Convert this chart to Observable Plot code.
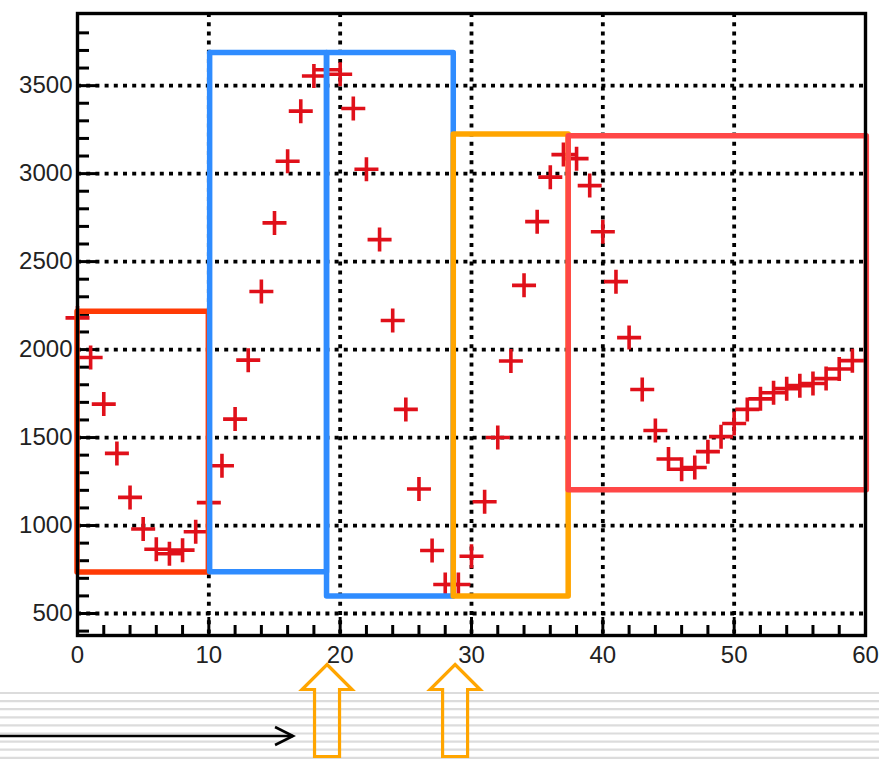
<!DOCTYPE html>
<html><head><meta charset="utf-8">
<script src="https://cdn.jsdelivr.net/npm/d3@7"></script>
<script src="https://cdn.jsdelivr.net/npm/@observablehq/plot@0.6"></script>
<style>html,body{margin:0;padding:0;background:#fff}#chart svg{display:block}</style>
</head><body><div id="chart"></div>
<script>
// ---- data ----
const yValues = [2180,1955,1690,1410,1160,980,865,840,860,965,
                 1130,1340,1605,1940,2330,2720,3070,3355,3555,3590,
                 3565,3370,3025,2625,2165,1660,1208,858,665,665,
                 825,1135,1500,1935,2365,2727,2980,3108,3085,2932,
                 2670,2386,2068,1773,1540,1378,1320,1330,1420,1505,
                 1580,1660,1720,1755,1778,1795,1807,1835,1890,1937];
const xTickLabels = [0,10,20,30,40,50,60];
const yTickLabels = [500,1000,1500,2000,2500,3000,3500];
const xMinorTicks = [2,4,6,8,12,14,16,18,22,24,26,28,32,34,36,38,42,44,46,48,52,54,56,58];
const yMinorTicks = [400,600,700,800,900,1100,1200,1300,1400,1600,1700,1800,1900,2100,2200,2300,2400,2600,2700,2800,2900,3100,3200,3300,3400,3600,3700,3800];
const boxX1 = [0, 10.1, 19.0, 28.65, 37.4];
const boxX2 = [10, 19.0, 28.65, 37.4, 60.1];
const boxY1 = [733, 735, 597, 597, 1200];
const boxY2 = [2215, 3686, 3686, 3222, 3212];
const boxColor = ["#ff3a05", "#2f8cff", "#2f8cff", "#ffa500", "#ff4747"];
const upArrowX = [19, 28.75];
const timeArrowEndX = 16.45;

// ---- derived tables ----
const points = yValues.map((y, i) => ({x: i, y}));
const boxes = boxX1.map((x1, i) => ({x1, x2: boxX2[i], y1: boxY1[i], y2: boxY2[i], c: boxColor[i]}));

const W = 879, H = 761, mL = 77, mR = 14, mT = 13, mB = 126;
const frameW = W - mL - mR, frameH = H - mT - mB;

const plusSymbol = {draw(ctx) { const r = 12; ctx.moveTo(-r, 0); ctx.lineTo(r, 0); ctx.moveTo(0, -r); ctx.lineTo(0, r); }};
const upArrow = {draw(ctx) {
  ctx.moveTo(0, -46); ctx.lineTo(25, -21); ctx.lineTo(12.5, -21); ctx.lineTo(12.5, 46);
  ctx.lineTo(-12.5, 46); ctx.lineTo(-12.5, -21); ctx.lineTo(-25, -21); ctx.closePath();
}};

function notebookLines(index, scales, values, dims) {
  const g = d3.create("svg:g");
  const base = dims.height - dims.marginBottom;
  for (let i = 0; i < 9; i++) {
    const y = base + 58 + i * 8.1;
    g.append("line").attr("x1", 0).attr("x2", dims.width).attr("y1", y).attr("y2", y)
      .attr("stroke", "#dcdcdc").attr("stroke-width", 2.2);
  }
  return g.node();
}
function timeArrow(index, scales, values, dims) {
  const g = d3.create("svg:g").attr("fill", "none").attr("stroke", "#000").attr("stroke-width", 2.6);
  const y = dims.height - dims.marginBottom + 101;
  const xe = scales.x(timeArrowEndX);
  g.append("line").attr("x1", 0).attr("x2", xe).attr("y1", y).attr("y2", y);
  g.append("path").attr("d", `M${xe - 18},${y - 9}L${xe},${y}L${xe - 18},${y + 9}`);
  return g.node();
}

const chart = Plot.plot({
  width: W, height: H,
  marginLeft: mL, marginRight: mR, marginTop: mT, marginBottom: mB,
  style: {fontFamily: "'Liberation Sans', Arial, sans-serif", fontSize: "24px", color: "#222", background: "#fff", overflow: "visible"},
  x: {domain: [0, 60]},
  y: {domain: [375, 3910]},
  marks: [
    notebookLines,
    // dotted grid
    Plot.ruleX([10,20,30,40,50], {stroke: "#000", strokeWidth: 3.8, strokeDasharray: "4,5.2"}),
    Plot.ruleY(yTickLabels, {stroke: "#000", strokeWidth: 3.8, strokeDasharray: "4,5.2"}),
    // inward ticks
    Plot.tickX(xMinorTicks, {x: d => d, stroke: "#000", strokeWidth: 3, insetTop: frameH - 10}),
    Plot.tickX(xTickLabels, {x: d => d, stroke: "#000", strokeWidth: 3, insetTop: frameH - 18}),
    Plot.tickY(yMinorTicks, {y: d => d, stroke: "#000", strokeWidth: 3, insetRight: frameW - 12}),
    Plot.tickY(yTickLabels, {y: d => d, stroke: "#000", strokeWidth: 3, insetRight: frameW - 22}),
    // data markers
    Plot.dot(points, {x: "x", y: "y", symbol: plusSymbol, fill: "none", stroke: "#e0101a", strokeWidth: 3.6}),
    // annotation boxes
    Plot.rect(boxes, {x1: "x1", x2: "x2", y1: "y1", y2: "y2", fill: "none", stroke: "c", strokeWidth: 5.5, strokeLinejoin: "round"}),
    // frame
    Plot.frame({stroke: "#000", strokeWidth: 3.4}),
    // axes
    Plot.axisX({ticks: xTickLabels, tickSize: 0, tickPadding: 10, tickFormat: d => String(d)}),
    Plot.axisY({ticks: yTickLabels, tickSize: 0, tickPadding: 5, tickFormat: d => String(d)}),
    // decorations under the chart
    Plot.dot(upArrowX, {x: d => d, frameAnchor: "bottom", dy: 75, symbol: upArrow, fill: "none", stroke: "#ffa500", strokeWidth: 3.2}),
    timeArrow
  ]
});
document.getElementById("chart").appendChild(chart);
</script>
</body></html>
